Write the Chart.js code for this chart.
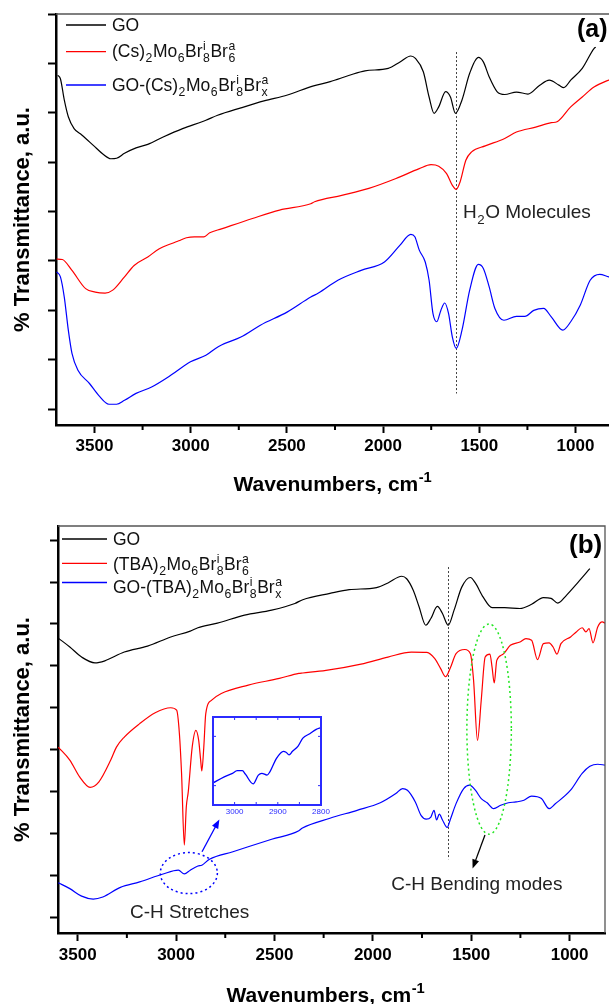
<!DOCTYPE html>
<html>
<head>
<meta charset="utf-8">
<title>FTIR spectra</title>
<script src="https://cdn.jsdelivr.net/npm/chart.js@4.4.1/dist/chart.umd.min.js"></script>
<style>
  html, body { margin: 0; padding: 0; background: #fff; overflow: hidden; width: 609px; height: 1004px; }
  canvas { position: absolute; display: block; }
  #chartA { left: 0; top: 0; width: 640px; height: 500px; }
  #chartB { left: 0; top: 500px; width: 609px; height: 504px; }
  #chartI { left: 205px; top: 712px; width: 130px; height: 108px; }
</style>
</head>
<body>
<canvas id="chartA" width="640" height="500"></canvas>
<canvas id="chartB" width="609" height="504"></canvas>
<canvas id="chartI" width="130" height="108"></canvas>
<script>
const FONT = "'Liberation Sans', Arial, sans-serif";

// shared axis ticks
const xTicksMajor = [3500, 3000, 2500, 2000, 1500, 1000];
const xTicksMinor = [3250, 2750, 2250, 1750, 1250];
const yTicksA = [0, 1, 2, 3, 4, 5, 6, 7, 8];
const yTicksB = [0, 1, 2, 3, 4, 5, 6, 7, 8, 9];

// (a) GO
const goA_wn = [3691, 3677, 3657, 3636, 3606, 3566, 3506, 3455, 3415, 3385, 3344, 3284, 3223, 3143, 3042, 2941, 2921, 2860, 2739, 2619, 2497, 2366, 2275, 2175, 2094, 1973, 1912, 1856, 1832, 1791, 1761, 1735, 1711, 1675, 1650, 1624, 1590, 1550, 1505, 1479, 1449, 1408, 1368, 1307, 1247, 1186, 1136, 1086, 1061, 1025, 965, 904, 895];
const goA_t  = [6.76, 6.69, 6.26, 5.92, 5.68, 5.55, 5.34, 5.16, 5.07, 5.08, 5.18, 5.29, 5.36, 5.51, 5.68, 5.82, 5.85, 5.95, 6.10, 6.24, 6.36, 6.54, 6.63, 6.76, 6.85, 6.90, 7.03, 7.15, 7.10, 6.83, 6.32, 5.99, 6.12, 6.43, 6.32, 5.99, 6.26, 6.80, 7.12, 7.03, 6.73, 6.43, 6.37, 6.42, 6.38, 6.56, 6.66, 6.56, 6.51, 6.66, 6.90, 7.30, 7.33];

// (a) (Cs)2Mo6Br14
const csA_wn = [3697, 3667, 3617, 3546, 3496, 3445, 3405, 3344, 3294, 3223, 3163, 3102, 3062, 3022, 2981, 2931, 2901, 2840, 2679, 2538, 2376, 2356, 2215, 2074, 1933, 1812, 1751, 1711, 1670, 1640, 1620, 1600, 1570, 1540, 1469, 1368, 1307, 1207, 1126, 1096, 1025, 965, 904, 805];
const csA_t  = [3.04, 3.03, 2.81, 2.44, 2.37, 2.35, 2.41, 2.68, 2.91, 3.08, 3.25, 3.35, 3.41, 3.47, 3.49, 3.49, 3.57, 3.65, 3.86, 4.03, 4.16, 4.20, 4.33, 4.47, 4.67, 4.87, 4.95, 4.92, 4.77, 4.53, 4.45, 4.60, 5.04, 5.21, 5.33, 5.48, 5.61, 5.71, 5.80, 5.82, 6.12, 6.32, 6.52, 6.70];

// (a) GO-(Cs)2Mo6Br
const gocsA_wn = [3697, 3677, 3657, 3636, 3617, 3586, 3526, 3476, 3425, 3385, 3344, 3284, 3203, 3102, 3001, 2921, 2871, 2840, 2739, 2638, 2497, 2376, 2336, 2235, 2114, 1993, 1912, 1856, 1835, 1812, 1781, 1761, 1741, 1721, 1700, 1680, 1660, 1640, 1620, 1590, 1550, 1505, 1479, 1449, 1419, 1372, 1307, 1263, 1217, 1166, 1126, 1066, 1025, 975, 924, 874, 827, 800];
const gocsA_t  = [2.78, 2.68, 2.27, 1.60, 1.13, 0.79, 0.52, 0.27, 0.10, 0.10, 0.18, 0.32, 0.45, 0.69, 0.96, 1.09, 1.23, 1.30, 1.46, 1.70, 1.97, 2.27, 2.35, 2.61, 2.81, 2.98, 3.32, 3.54, 3.49, 3.22, 2.98, 2.61, 1.94, 1.77, 2.00, 2.15, 1.94, 1.46, 1.23, 1.60, 2.41, 2.93, 2.85, 2.48, 2.04, 1.80, 1.88, 1.88, 2.00, 2.04, 1.87, 1.60, 1.77, 2.11, 2.61, 2.73, 2.68, 2.66];

// (b) GO
const goB_wn = [3595, 3540, 3480, 3412, 3362, 3263, 3145, 3027, 2928, 2889, 2790, 2652, 2514, 2396, 2356, 2218, 2120, 1981, 1923, 1853, 1828, 1794, 1765, 1731, 1705, 1672, 1646, 1617, 1587, 1548, 1504, 1479, 1439, 1394, 1330, 1252, 1193, 1133, 1094, 1060, 1015, 956, 897];
const goB_t  = [6.65, 6.45, 6.21, 6.07, 6.12, 6.33, 6.47, 6.69, 6.83, 6.91, 7.02, 7.21, 7.33, 7.49, 7.58, 7.73, 7.82, 7.87, 7.98, 8.14, 8.08, 7.80, 7.41, 6.97, 7.13, 7.42, 7.25, 6.97, 7.33, 7.88, 8.11, 7.98, 7.64, 7.39, 7.39, 7.37, 7.47, 7.63, 7.61, 7.50, 7.69, 8.00, 8.32];

// (b) (TBA)2Mo6Br14
const tbaB_wn = [3599, 3540, 3490, 3437, 3392, 3332, 3303, 3263, 3185, 3106, 3027, 2997, 2983, 2972, 2958, 2948, 2938, 2918, 2899, 2885, 2875, 2869, 2859, 2849, 2819, 2770, 2633, 2475, 2376, 2356, 2238, 2060, 1923, 1804, 1725, 1685, 1656, 1630, 1607, 1577, 1532, 1504, 1488, 1468, 1449, 1429, 1405, 1394, 1383, 1370, 1340, 1301, 1252, 1222, 1193, 1163, 1133, 1104, 1084, 1064, 1044, 995, 966, 936, 917, 901, 881, 857, 834, 820];
const tbaB_t  = [4.06, 3.75, 3.35, 3.10, 3.23, 3.75, 4.06, 4.30, 4.62, 4.88, 5.00, 4.94, 4.38, 3.43, 1.72, 2.63, 2.99, 4.06, 4.46, 4.22, 3.75, 3.49, 4.06, 4.86, 5.18, 5.34, 5.54, 5.70, 5.82, 5.83, 5.89, 6.04, 6.21, 6.33, 6.32, 6.17, 5.94, 5.74, 5.94, 6.29, 6.39, 6.29, 5.66, 4.22, 5.18, 6.21, 6.28, 5.97, 5.59, 6.13, 6.27, 6.49, 6.57, 6.65, 6.61, 6.15, 6.53, 6.55, 6.45, 6.28, 6.53, 6.69, 6.81, 6.91, 6.81, 6.89, 6.55, 6.93, 7.05, 7.02];

// (b) GO-(TBA)2Mo6Br
const gotbaB_wn = [3599, 3540, 3480, 3421, 3372, 3283, 3185, 3066, 2988, 2958, 2928, 2889, 2869, 2830, 2711, 2514, 2376, 2360, 2218, 2080, 1962, 1883, 1849, 1824, 1784, 1755, 1729, 1705, 1689, 1676, 1662, 1646, 1622, 1607, 1577, 1538, 1508, 1479, 1449, 1419, 1386, 1350, 1311, 1272, 1232, 1193, 1143, 1104, 1074, 995, 936, 897, 857, 820];
const gotbaB_t  = [0.82, 0.68, 0.50, 0.43, 0.48, 0.71, 0.84, 1.03, 1.12, 1.03, 1.12, 1.22, 1.24, 1.38, 1.56, 1.86, 2.06, 2.12, 2.36, 2.55, 2.73, 2.95, 3.07, 3.03, 2.75, 2.43, 2.34, 2.39, 2.55, 2.32, 2.46, 2.32, 2.14, 2.32, 2.71, 3.07, 3.15, 3.03, 2.83, 2.73, 2.59, 2.67, 2.73, 2.75, 2.79, 2.89, 2.83, 2.59, 2.70, 3.03, 3.43, 3.60, 3.65, 3.63];

// inset: C-H stretch region of GO-(TBA)2Mo6Br
const inset_wn = [3050, 3024, 3005, 2994, 2982, 2975, 2957, 2945, 2937, 2925, 2918, 2903, 2887, 2881, 2874, 2866, 2853, 2842, 2826, 2811, 2800];
const inset_t  = [0.25, 0.32, 0.36, 0.39, 0.39, 0.35, 0.24, 0.34, 0.36, 0.34, 0.38, 0.53, 0.61, 0.60, 0.57, 0.61, 0.67, 0.76, 0.81, 0.86, 0.88];
const insetTicks = [3000, 2900, 2800];
const insetMinor = [3000, 2950, 2900, 2850];
const insetYTicks = [0.22, 0.78];

const RED = '#ff0000';
const BLUE = '#0000ff';

// "^x" superscript, "_x" subscript, "^a_6" stacked, braces for longer groups
function parseRich(s) {
  const out = [];
  let i = 0;
  const arg = () => {
    if (s[i] === '{') {
      const j = s.indexOf('}', i);
      const t = s.slice(i + 1, j);
      i = j + 1;
      return t;
    }
    return s[i++];
  };
  while (i < s.length) {
    if (s[i] === '^') {
      i++;
      const tok = { sup: arg() };
      if (s[i] === '_') { i++; tok.sub = arg(); }
      out.push(tok);
    } else if (s[i] === '_') {
      i++;
      out.push({ sub: arg() });
    } else {
      let j = i;
      while (j < s.length && s[j] !== '^' && s[j] !== '_') j++;
      out.push({ text: s.slice(i, j) });
      i = j;
    }
  }
  return out;
}

function drawRich(ctx, s, x, yMid, size, weight, color, align) {
  const big = `${weight} ${size}px ${FONT}`;
  const small = `${weight} ${size * 0.7}px ${FONT}`;
  const toks = parseRich(s);
  const widths = toks.map(t => {
    if (t.text !== undefined) { ctx.font = big; return ctx.measureText(t.text).width; }
    ctx.font = small;
    return Math.max(t.sup ? ctx.measureText(t.sup).width : 0, t.sub ? ctx.measureText(t.sub).width : 0) + size * 0.06;
  });
  const total = widths.reduce((p, c) => p + c, 0);
  let cx = align === 'center' ? x - total / 2 : x;
  const base = yMid + size * 0.36;
  ctx.fillStyle = color;
  ctx.textAlign = 'left';
  ctx.textBaseline = 'alphabetic';
  toks.forEach((t, k) => {
    if (t.text !== undefined) {
      ctx.font = big;
      ctx.fillText(t.text, cx, base);
    } else {
      ctx.font = small;
      if (t.sup) ctx.fillText(t.sup, cx + 0.5, base - size * 0.42);
      if (t.sub) ctx.fillText(t.sub, cx + 0.5, base + size * 0.28);
    }
    cx += widths[k];
  });
}

function arrow(ctx, x0, y0, x1, y1, color) {
  const ang = Math.atan2(y1 - y0, x1 - x0);
  ctx.strokeStyle = color;
  ctx.fillStyle = color;
  ctx.lineWidth = 1.3;
  ctx.setLineDash([]);
  ctx.beginPath();
  ctx.moveTo(x0, y0);
  ctx.lineTo(x1 - 6 * Math.cos(ang), y1 - 6 * Math.sin(ang));
  ctx.stroke();
  ctx.beginPath();
  ctx.moveTo(x1, y1);
  ctx.lineTo(x1 - 9 * Math.cos(ang) + 3.5 * Math.sin(ang), y1 - 9 * Math.sin(ang) - 3.5 * Math.cos(ang));
  ctx.lineTo(x1 - 9 * Math.cos(ang) - 3.5 * Math.sin(ang), y1 - 9 * Math.sin(ang) + 3.5 * Math.cos(ang));
  ctx.closePath();
  ctx.fill();
}

// frame, minor ticks, legend, titles and annotations of a spectrum panel
const decor = {
  id: 'decor',
  beforeDatasetsDraw(chart, args, o) {
    const { ctx, scales: { x, y } } = chart;
    if (!o.dropLine) return;
    const d = o.dropLine;
    const px = Math.round(x.getPixelForValue(d.x)) + 0.5;
    ctx.save();
    ctx.strokeStyle = '#444';
    ctx.lineWidth = 1;
    ctx.setLineDash([2, 2]);
    ctx.beginPath();
    ctx.moveTo(px, y.getPixelForValue(d.y0));
    ctx.lineTo(px, y.getPixelForValue(d.y1));
    ctx.stroke();
    ctx.restore();
  },
  afterDraw(chart, args, o) {
    const { ctx, chartArea: a, scales: { x, y } } = chart;
    ctx.save();

    // thin box on top and right
    ctx.strokeStyle = '#555';
    ctx.lineWidth = 1.3;
    ctx.beginPath();
    ctx.moveTo(a.left, a.top);
    ctx.lineTo(a.right, a.top);
    ctx.lineTo(a.right, a.bottom);
    ctx.stroke();

    // minor ticks on the wavenumber axis
    ctx.strokeStyle = '#000';
    ctx.lineWidth = 2;
    xTicksMinor.forEach(v => {
      const px = x.getPixelForValue(v);
      ctx.beginPath();
      ctx.moveTo(px, a.bottom);
      ctx.lineTo(px, a.bottom + 5);
      ctx.stroke();
    });

    // legend
    o.legend.forEach(e => {
      ctx.strokeStyle = e.color;
      ctx.lineWidth = 1.3;
      ctx.beginPath();
      ctx.moveTo(o.legendX[0], e.y);
      ctx.lineTo(o.legendX[1], e.y);
      ctx.stroke();
      drawRich(ctx, e.text, o.legendX[2], e.ty, 17.5, 'normal', '#111', 'left');
    });

    // panel letter
    drawRich(ctx, o.panel.text, o.panel.x, o.panel.y, o.panel.size, 'bold', '#000', 'left');

    // axis titles
    drawRich(ctx, 'Wavenumbers, cm^{-1}', o.xTitle.x, o.xTitle.y, 21, 'bold', '#000', 'center');
    ctx.save();
    ctx.translate(o.yTitleX, (a.top + a.bottom) / 2);
    ctx.rotate(-Math.PI / 2);
    ctx.font = `bold 22px ${FONT}`;
    ctx.fillStyle = '#000';
    ctx.textAlign = 'center';
    ctx.textBaseline = 'middle';
    ctx.fillText('% Transmittance, a.u.', 0, 0);
    ctx.restore();

    // dotted ellipses
    (o.ellipses || []).forEach(e => {
      const cx = x.getPixelForValue(e.cx);
      const cy = y.getPixelForValue(e.cy);
      const rx = Math.abs(x.getPixelForValue(e.cx + e.rx) - cx);
      const ry = Math.abs(y.getPixelForValue(e.cy + e.ry) - cy);
      ctx.strokeStyle = e.color;
      ctx.lineWidth = 1.5;
      ctx.setLineDash([2, 3]);
      ctx.beginPath();
      ctx.ellipse(cx, cy, rx, ry, 0, 0, Math.PI * 2);
      ctx.stroke();
    });
    ctx.setLineDash([]);

    (o.arrows || []).forEach(e => {
      arrow(ctx, x.getPixelForValue(e.from[0]), y.getPixelForValue(e.from[1]),
        x.getPixelForValue(e.to[0]), y.getPixelForValue(e.to[1]), e.color);
    });

    (o.notes || []).forEach(n => {
      drawRich(ctx, n.text, x.getPixelForValue(n.x), y.getPixelForValue(n.y), 19, 'normal', '#222', 'left');
    });

    ctx.restore();
  }
};

function axisGrid() {
  return { drawOnChartArea: false, drawTicks: true, tickLength: 8, tickWidth: 2, tickColor: '#000' };
}

function spectrumConfig(p) {
  return {
    type: 'line',
    data: {
      datasets: p.series.map(s => ({
        label: s.label,
        data: s.wn.map((w, i) => ({ x: w, y: s.t[i] })),
        borderColor: s.color,
        borderWidth: 1.2,
        pointRadius: 0,
        cubicInterpolationMode: 'monotone',
        fill: false
      }))
    },
    options: {
      responsive: false,
      animation: false,
      events: [],
      layout: { padding: p.pad },
      plugins: { legend: { display: false }, tooltip: { enabled: false }, decor: p.decor },
      scales: {
        x: {
          type: 'linear', reverse: true, min: p.xMin, max: p.xMax,
          afterBuildTicks: s => { s.ticks = xTicksMajor.map(v => ({ value: v })); },
          afterFit: s => { s.height = p.xHeight; },
          ticks: { color: '#000', padding: p.labelPad, maxRotation: 0, autoSkip: false,
            font: { family: FONT, size: 17, weight: 'bold' }, callback: v => String(v) },
          grid: axisGrid(),
          border: { color: '#000', width: 2.5 }
        },
        y: {
          type: 'linear', min: p.yMin, max: p.yMax,
          afterBuildTicks: s => { s.ticks = p.yTicks.map(v => ({ value: v })); },
          afterFit: s => { s.width = p.yWidth; },
          ticks: { display: false },
          grid: axisGrid(),
          border: { color: '#000', width: 2.5 }
        }
      }
    },
    plugins: [decor]
  };
}

new Chart(document.getElementById('chartA'), spectrumConfig({
  series: [
    { label: 'GO', wn: goA_wn, t: goA_t, color: '#000' },
    { label: '(Cs)2Mo6Br14', wn: csA_wn, t: csA_t, color: RED },
    { label: 'GO-(Cs)2Mo6Br', wn: gocsA_wn, t: gocsA_t, color: BLUE }
  ],
  pad: { left: 0, top: 14, right: 26, bottom: 0 },
  xMin: 800, xMax: 3700, xHeight: 75, labelPad: 3,
  yMin: -0.32, yMax: 8, yTicks: yTicksA, yWidth: 56,
  decor: {
    legendX: [66, 106, 112],
    legend: [
      { color: '#000', y: 25, ty: 25, text: 'GO' },
      { color: RED, y: 51.7, ty: 51, text: '(Cs)_2Mo_6Br^i_8Br^a_6' },
      { color: BLUE, y: 85, ty: 85, text: 'GO-(Cs)_2Mo_6Br^i_8Br^a_x' }
    ],
    panel: { text: '(a)', x: 577, y: 28, size: 25 },
    xTitle: { x: 333, y: 483 },
    yTitleX: 23,
    dropLine: { x: 1620, y0: 7.23, y1: 0.32 },
    notes: [{ text: 'H_2O Molecules', x: 1585, y: 4.0 }]
  }
}));

new Chart(document.getElementById('chartB'), spectrumConfig({
  series: [
    { label: 'GO', wn: goB_wn, t: goB_t, color: '#000' },
    { label: '(TBA)2Mo6Br14', wn: tbaB_wn, t: tbaB_t, color: RED },
    { label: 'GO-(TBA)2Mo6Br', wn: gotbaB_wn, t: gotbaB_t, color: BLUE }
  ],
  pad: { left: 0, top: 26, right: 4, bottom: 0 },
  xMin: 820, xMax: 3600, xHeight: 71, labelPad: 4,
  yMin: -0.38, yMax: 9.34, yTicks: yTicksB, yWidth: 58,
  decor: {
    legendX: [62, 107, 113],
    legend: [
      { color: '#000', y: 39, ty: 39, text: 'GO' },
      { color: RED, y: 63.3, ty: 64, text: '(TBA)_2Mo_6Br^i_8Br^a_6' },
      { color: BLUE, y: 82.5, ty: 87, text: 'GO-(TBA)_2Mo_6Br^i_8Br^a_x' }
    ],
    panel: { text: '(b)', x: 569, y: 44, size: 26 },
    xTitle: { x: 326, y: 494 },
    yTitleX: 23,
    dropLine: { x: 1617, y0: 8.36, y1: 1.38 },
    ellipses: [
      { cx: 2935, cy: 1.05, rx: 145, ry: 0.49, color: BLUE },
      { cx: 1409, cy: 4.49, rx: 113, ry: 2.51, color: '#22e622' }
    ],
    arrows: [
      { from: [2868, 1.56], to: [2780, 2.33], color: BLUE },
      { from: [1430, 1.96], to: [1493, 1.16], color: '#000' }
    ],
    notes: [
      { text: 'C-H Stretches', x: 3234, y: 0.13 },
      { text: 'C-H Bending modes', x: 1906, y: 0.82 }
    ]
  }
}));

// inset box with inward ticks
const insetFrame = {
  id: 'insetFrame',
  afterDraw(chart) {
    const { ctx, chartArea: a, scales: { x, y } } = chart;
    ctx.save();
    ctx.strokeStyle = '#2b2bff';
    ctx.lineWidth = 2;
    ctx.strokeRect(a.left, a.top, a.right - a.left, a.bottom - a.top);
    ctx.lineWidth = 1;
    insetMinor.forEach(v => {
      const px = x.getPixelForValue(v);
      ctx.beginPath();
      ctx.moveTo(px, a.top); ctx.lineTo(px, a.top + 3);
      ctx.moveTo(px, a.bottom); ctx.lineTo(px, a.bottom - 3);
      ctx.stroke();
    });
    insetYTicks.forEach(v => {
      const py = y.getPixelForValue(v);
      ctx.beginPath();
      ctx.moveTo(a.left, py); ctx.lineTo(a.left + 3, py);
      ctx.moveTo(a.right, py); ctx.lineTo(a.right - 3, py);
      ctx.stroke();
    });
    ctx.restore();
  }
};

new Chart(document.getElementById('chartI'), {
  type: 'line',
  data: {
    datasets: [{
      label: 'GO-(TBA)2Mo6Br, C-H region',
      data: inset_wn.map((w, i) => ({ x: w, y: inset_t[i] })),
      borderColor: BLUE,
      borderWidth: 1.3,
      pointRadius: 0,
      cubicInterpolationMode: 'monotone'
    }]
  },
  options: {
    responsive: false,
    animation: false,
    events: [],
    layout: { padding: { left: 8, top: 5, right: 14, bottom: 0 } },
    plugins: { legend: { display: false }, tooltip: { enabled: false } },
    scales: {
      x: {
        type: 'linear', reverse: true, min: 2800, max: 3050,
        afterBuildTicks: s => { s.ticks = insetTicks.map(v => ({ value: v })); },
        afterFit: s => { s.height = 15; },
        ticks: { color: '#2b2bff', padding: 2, maxRotation: 0, autoSkip: false,
          font: { family: FONT, size: 8 }, callback: v => String(v) },
        grid: { display: false, drawTicks: false, tickLength: 0 },
        border: { display: false }
      },
      y: { type: 'linear', min: 0, max: 1, display: false }
    }
  },
  plugins: [insetFrame]
});
</script>
</body>
</html>
